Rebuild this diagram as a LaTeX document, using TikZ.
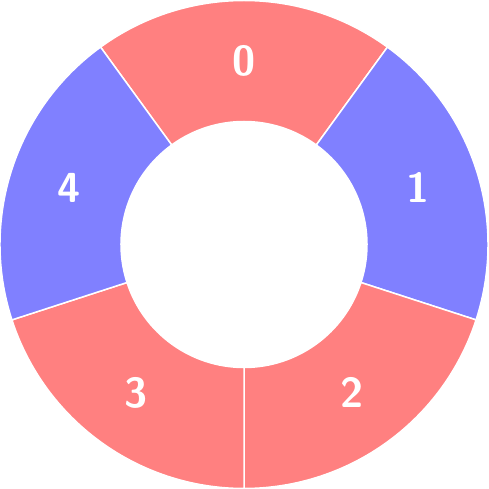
\documentclass[tikz,border=0pt]{standalone}
\usepackage{fontspec}
\definecolor{segred}{HTML}{FF8080}
\definecolor{segblue}{HTML}{8080FF}
\tikzset{
  seg/.style={draw=white, line width=1.5pt, line join=miter},
  lbl/.style={text=white, font=\fontsize{42}{42}\selectfont\sffamily\bfseries}
}
\begin{document}
\begin{tikzpicture}[x=1pt,y=1pt]
\useasboundingbox (-244,-244.5) rectangle (244,244.5);
\def\Ro{244}
\def\Ri{123}
\foreach \a/\b/\c/\n in {54/126/segred/0, -18/54/segblue/1, -90/-18/segred/2, -162/-90/segred/3, 126/198/segblue/4}{
  \filldraw[seg, fill=\c] (\a:\Ri) -- (\a:\Ro) arc[start angle=\a, end angle=\b, radius=\Ro] -- (\b:\Ri) arc[start angle=\b, end angle=\a, radius=\Ri] -- cycle;
  \node[lbl] (l\n) at ({(\a+\b)/2}:183.5) {\n};
}
\end{tikzpicture}
\end{document}
